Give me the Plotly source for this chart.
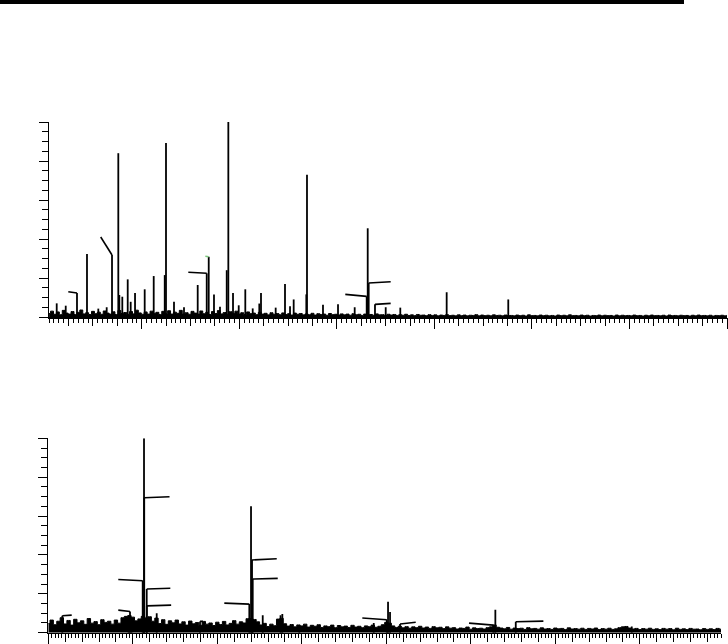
import plotly.graph_objects as go

# ---------------- data: top spectrum ----------------
top_peak_mz = [225.6, 244.1, 267.2, 287.7, 310.9, 328.1, 339.0, 351.9, 354.0, 360.1,
               371.2, 377.3, 386.2, 406.0, 424.5, 447.1, 449.7, 466.1, 486.6, 514.7,
               533.2, 537.3, 548.1, 560.4, 574.2, 577.5, 587.1, 598.8, 612.3, 627.5,
               641.0, 644.5, 674.6, 693.7, 704.0, 711.5, 737.4, 738.8, 771.6, 802.4,
               836.6, 861.2, 863.3, 865.3, 878.2, 900.2, 930.1, 1025.2, 1151.5]
top_peak_int = [7.0, 5.8, 12.3, 32.3, 4.3, 5.0, 31.8, 84.0, 11.3, 10.4,
                19.3, 7.8, 12.3, 14.2, 21.0, 21.5, 89.2, 7.8, 5.0, 16.4,
                22.4, 30.9, 11.6, 5.3, 24.0, 100.0, 12.3, 6.0, 14.2, 4.4,
                6.9, 12.3, 4.8, 16.9, 5.5, 9.0, 11.6, 73.0, 6.3, 6.5,
                5.0, 10.6, 45.5, 17.4, 6.5, 5.0, 4.8, 12.7, 9.0]
top_noise_start, top_noise_step = 210, 6
top_noise = [
    1.8, 3.0, 1.4, 2.6, 1.2, 3.4, 2.0, 1.5, 2.8, 1.3, 2.4, 3.6, 1.6, 2.2, 1.3, 2.9, 1.7, 2.5, 1.4, 3.1,
    2.0, 1.5, 2.7, 1.3, 3.3, 1.8, 2.3, 1.4, 2.8, 1.6, 3.5, 2.1, 1.4, 2.6, 1.5, 3.0, 1.9, 2.4, 1.3, 2.9,
    1.7, 3.2, 1.5, 2.5, 1.9, 3.4, 1.6, 2.2, 1.4, 2.9, 2.0, 1.5, 3.1, 1.7, 2.4, 1.3, 2.8, 1.8, 3.3, 1.6,
    2.3, 1.4, 2.7, 1.9, 3.0, 1.5, 2.2, 1.3, 2.6, 1.7, 2.0, 1.2, 2.4, 1.5, 1.9, 1.1, 2.2, 1.4, 1.8, 1.2,
    2.1, 1.3, 1.7, 1.0, 2.0, 1.4, 1.8, 1.1, 1.6, 1.2, 1.9, 1.0, 1.7, 1.3, 1.5, 0.9, 1.8, 1.2, 1.4, 1.0,
    1.6, 1.1, 1.5, 0.9, 1.7, 1.2, 1.4, 0.8, 1.5, 1.0, 1.3, 0.9, 1.6, 1.1, 1.2, 0.8, 1.4, 1.0, 1.3, 0.8,
    1.2, 0.9, 1.4, 0.8, 1.1, 0.7, 1.3, 0.9, 1.0, 0.7, 1.2, 0.8, 1.1, 0.6, 1.0, 0.8, 1.2, 0.7, 0.9, 0.6,
    1.1, 0.7, 1.0, 0.6, 0.9, 0.8, 1.2, 0.6, 1.0, 0.7, 0.9, 0.6, 1.1, 0.8, 0.9, 0.6, 1.0, 0.7, 0.8, 0.6,
    1.0, 0.7, 0.9, 0.5, 1.1, 0.7, 0.8, 0.6, 1.0, 0.7, 0.9, 0.6, 0.8, 0.5, 1.0, 0.7, 0.9, 0.6, 1.1, 0.7,
    0.8, 0.6, 1.0, 0.7, 0.9, 0.5, 0.8, 0.7, 1.0, 0.6, 0.9, 0.7, 0.8, 0.5, 1.0, 0.6, 0.9, 0.7, 0.8, 0.6,
    1.0, 0.7, 0.8, 0.5, 0.9, 0.6, 1.0, 0.7, 0.8, 0.6, 0.9, 0.5, 1.0, 0.7, 0.8, 0.6, 0.9, 0.7, 0.8, 0.5,
    0.9, 0.6, 1.0, 0.7, 0.8, 0.6, 0.9, 0.5, 0.8, 0.7, 0.9, 0.6, 0.8]
# leader lines: (peak index, dx in px, rise in px, colour)
top_leaders = [(2, -8.7, 1.3, "black"), (6, -11.3, 18, "black"), (20, -18.4, 1, "black"),
               (21, -3.4, 0.5, "#7dc87d"), (41, -21.4, 2, "black"), (43, 22, 1.3, "black"),
               (44, 15.7, 1, "black")]

# ---------------- data: bottom spectrum ----------------
bot_peak_mz = [1165.7, 1950.0, 1966.9, 1985.0, 2117.0, 2132.5, 2135.0, 2164.5, 2166.0, 2282.8,
               2795.3, 3378.7, 3398.8, 3410.7, 3419.0, 3537.3, 3748.0, 3769.2, 3970.4, 4850.9,
               5004.7, 5020.1, 5043.8, 5162.1, 6266.0, 6289.9, 6531.4, 7904.0]
bot_peak_int = [8.7, 8.0, 10.9, 8.0, 26.7, 100.0, 69.4, 22.5, 13.8, 10.0,
                5.8, 14.7, 65.1, 37.4, 27.6, 9.0, 9.0, 9.6, 4.0, 5.0,
                6.7, 15.9, 10.6, 4.5, 3.9, 11.8, 5.6, 3.2]
bot_noise_start, bot_noise_step = 1000, 40
bot_noise = [
    4.7, 6.5, 4.1, 5.9, 7.7, 4.5, 6.3, 3.9, 6.9, 5.1, 6.1, 4.3, 7.3, 4.9, 5.7, 4.1, 6.7, 5.3, 5.9, 4.4,
    6.5, 4.9, 7.7, 8.4, 8.8, 8.0, 6.1, 7.1, 8.4, 7.6, 8.2, 5.9, 7.5, 4.7, 6.7, 4.3, 6.1, 5.1, 6.5, 4.5,
    5.6, 3.9, 6.0, 4.6, 5.2, 3.8, 5.8, 4.4, 5.0, 3.7, 5.4, 4.2, 5.8, 4.0, 4.8, 6.2, 4.4, 5.6, 5.0, 7.2,
    7.3, 6.8, 5.6, 4.0, 4.8, 3.2, 4.4, 3.6, 7.0, 7.4, 4.6, 3.4, 4.2, 3.0, 4.0, 3.5, 4.4, 2.9, 3.8, 3.3,
    4.1, 2.7, 3.5, 3.1, 3.9, 2.6, 3.7, 3.0, 3.4, 2.7, 3.8, 2.9, 3.3, 2.6, 3.5, 3.1, 3.9, 2.8, 3.3, 4.1,
    5.3, 4.9, 3.5, 2.7, 3.3, 2.5, 3.1, 2.3, 3.0, 2.6, 3.3, 2.4, 2.9, 2.2, 3.1, 2.5, 2.8, 2.1, 3.0, 2.3,
    2.6, 1.9, 2.4, 2.2, 2.9, 1.8, 2.5, 2.1, 2.3, 1.9, 2.6, 3.0, 4.0, 2.8, 2.4, 2.0, 2.7, 1.8, 2.4, 2.1,
    2.3, 1.7, 2.6, 2.0, 2.2, 1.8, 2.5, 1.9, 2.1, 1.7, 2.4, 2.0, 2.2, 1.6, 2.5, 1.9, 2.1, 1.8, 2.3, 1.7,
    2.2, 1.9, 2.4, 1.6, 2.1, 1.8, 2.3, 1.7, 2.0, 2.6, 3.0, 3.2, 2.4, 1.9, 2.2, 1.6, 2.1, 1.8, 2.3, 1.7,
    2.0, 1.6, 2.2, 1.8, 2.1, 1.5, 2.3, 1.7, 2.0, 1.6, 2.2, 1.8, 1.9, 1.5, 2.1, 1.7, 2.0, 1.6, 2.2, 1.8]
bot_leaders = [(0, 9.4, 0.7), (2, -11.7, 1.4), (4, -24.4, 1.3), (6, 25.3, 1), (7, 23.6, 0.7),
               (8, 24.3, 0.7), (10, 3, 0), (11, -25, 1), (13, 24.7, 1.3), (14, 25, 0.7),
               (20, -24.4, 1.7), (23, 15.7, 1.7), (24, -24.3, 2), (26, 27.6, 0.7)]

# ---------------- layout geometry ----------------
W, H = 728, 644
top_xr = [209.8, 1600]
bot_xr = [1000, 8960]
top_dom_x = [49 / W, 727 / W]
bot_dom_x = [48.3 / W, 721 / W]
top_dom_y = [1 - 317 / H, 1 - 122 / H]
bot_dom_y = [1 - 632.7 / H, 1 - 438.3 / H]
plot_h = 195.0

fig = go.Figure()


def add_panel(mz, inten, nstart, nstep, noise, leaders, xa, ya, xr, dom_x):
    px_per_unit = (dom_x[1] - dom_x[0]) * W / (xr[1] - xr[0])
    nx = [nstart + nstep * i for i in range(len(noise))]
    fig.add_trace(go.Scatter(x=nx, y=noise, mode="lines", fill="tozeroy",
                             line=dict(color="black", width=1, simplify=False, shape="hvh"),
                             fillcolor="black", xaxis=xa, yaxis=ya, hoverinfo="skip"))
    sx, sy = [], []
    for m, h in zip(mz, inten):
        sx += [m, m, None]
        sy += [0, h, None]
    fig.add_trace(go.Scatter(x=sx, y=sy, mode="lines",
                             line=dict(color="black", width=1.8, simplify=False),
                             xaxis=xa, yaxis=ya, hoverinfo="skip"))
    for ld in leaders:
        i, dx, rise = ld[0], ld[1], ld[2]
        col = ld[3] if len(ld) > 3 else "black"
        x0, y0 = mz[i], inten[i]
        x1 = x0 + dx / px_per_unit
        y1 = y0 + rise / plot_h * 100
        fig.add_trace(go.Scatter(x=[x0, x1], y=[y0, y1], mode="lines",
                                 line=dict(color=col, width=1.6),
                                 xaxis=xa, yaxis=ya, hoverinfo="skip"))


add_panel(top_peak_mz, top_peak_int, top_noise_start, top_noise_step, top_noise,
          top_leaders, "x", "y", top_xr, top_dom_x)
add_panel(bot_peak_mz, bot_peak_int, bot_noise_start, bot_noise_step, bot_noise,
          bot_leaders, "x2", "y2", bot_xr, bot_dom_x)

# helper invisible traces so overlay tick axes render
fig.add_trace(go.Scatter(x=top_xr, y=[0, 0], mode="markers", marker=dict(opacity=0),
                         xaxis="x3", yaxis="y", hoverinfo="skip"))
fig.add_trace(go.Scatter(x=bot_xr, y=[0, 0], mode="markers", marker=dict(opacity=0),
                         xaxis="x4", yaxis="y2", hoverinfo="skip"))

common_x = dict(showgrid=False, zeroline=False, showticklabels=False, ticks="outside",
                tickcolor="black", tickwidth=1, fixedrange=True)
yaxis_style = dict(showgrid=False, zeroline=False, showticklabels=False, ticks="outside",
                   tickcolor="black", tickwidth=1, ticklen=9, dtick=20, tick0=0,
                   range=[0, 100], showline=True, linecolor="black", linewidth=1.5,
                   fixedrange=True,
                   minor=dict(ticks="outside", ticklen=6, dtick=5, tick0=0,
                              tickcolor="black", tickwidth=1))

fig.update_layout(
    width=W, height=H, margin=dict(l=0, r=0, t=0, b=0),
    paper_bgcolor="white", plot_bgcolor="white", showlegend=False,
    xaxis=dict(**common_x, domain=top_dom_x, anchor="y", range=top_xr, dtick=50, tick0=200,
               ticklen=7, showline=True, linecolor="black", linewidth=1.5,
               minor=dict(ticks="outside", ticklen=4, dtick=10, tick0=200,
                          tickcolor="black", tickwidth=1)),
    xaxis3=dict(**common_x, overlaying="x", anchor="y", range=top_xr, dtick=200, tick0=200,
                ticklen=11, showline=False),
    yaxis=dict(**yaxis_style, domain=top_dom_y, anchor="x"),
    xaxis2=dict(**common_x, domain=bot_dom_x, anchor="y2", range=bot_xr, dtick=200, tick0=1000,
                ticklen=8, showline=True, linecolor="black", linewidth=1.5,
                minor=dict(ticks="outside", ticklen=4, dtick=40, tick0=1000,
                           tickcolor="black", tickwidth=1)),
    xaxis4=dict(**common_x, overlaying="x2", anchor="y2", range=bot_xr, dtick=1000, tick0=1000,
                ticklen=12, showline=False),
    yaxis2=dict(**yaxis_style, domain=bot_dom_y, anchor="x2"),
    shapes=[dict(type="rect", xref="paper", yref="paper", x0=0, x1=684 / W,
                 y0=1 - 4 / H, y1=1, fillcolor="black", line=dict(width=0))],
)

fig.write_html("out.html", config={"displayModeBar": False, "staticPlot": True},
               post_script="document.body.style.margin='0';document.body.style.overflow='hidden';")
